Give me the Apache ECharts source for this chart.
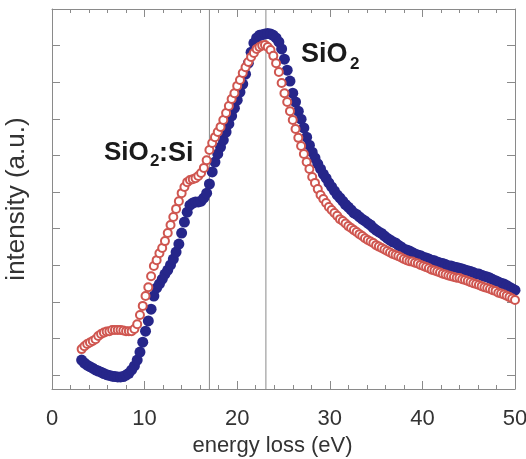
<!DOCTYPE html>
<html><head><meta charset="utf-8">
<script src="https://cdn.jsdelivr.net/npm/echarts@6/dist/echarts.min.js"></script>
<style>html,body{margin:0;padding:0;background:#fff}#c{width:526px;height:459px}</style>
</head><body><div id="c"></div>
<script>
// energy loss (eV)
const energy = [3.2,3.5,3.8,4.1,4.4,4.7,5.0,5.3,5.6,5.9,6.2,6.5,6.8,7.1,7.4,7.7,8.0,8.3,8.6,8.9,9.2,9.5,9.8,10.1,10.4,10.7,11.0,11.3,11.6,11.9,12.2,12.5,12.8,13.1,13.4,13.7,14.0,14.3,14.6,14.9,15.2,15.5,15.8,16.1,16.4,16.7,17.0,17.3,17.6,17.9,18.2,18.5,18.8,19.1,19.4,19.7,20.0,20.3,20.6,20.9,21.2,21.5,21.8,22.1,22.4,22.7,23.0,23.3,23.6,23.9,24.2,24.5,24.8,25.1,25.4,25.7,26.0,26.3,26.6,26.9,27.2,27.5,27.8,28.1,28.4,28.7,29.0,29.3,29.6,29.9,30.2,30.5,30.8,31.1,31.4,31.7,32.0,32.3,32.6,32.9,33.2,33.5,33.8,34.1,34.4,34.7,35.0,35.3,35.6,35.9,36.2,36.5,36.8,37.1,37.4,37.7,38.0,38.3,38.6,38.9,39.2,39.5,39.8,40.1,40.4,40.7,41.0,41.3,41.6,41.9,42.2,42.5,42.8,43.1,43.4,43.7,44.0,44.3,44.6,44.9,45.2,45.5,45.8,46.1,46.4,46.7,47.0,47.3,47.6,47.9,48.2,48.5,48.8,49.1,49.4,49.7,50.0];
// SiO2 (filled blue circles)
const sio2 = [4.1,3.3,2.7,2.3,1.9,1.4,1.1,0.8,0.4,0.1,
-0.1,-0.3,-0.4,-0.5,-0.5,-0.4,0.0,0.5,1.4,2.5,
4.1,6.3,9.0,12.0,14.8,18.0,21.6,23.8,24.9,26.2,
27.6,28.7,30.1,31.7,33.6,35.8,38.8,41.8,44.5,46.4,
47.0,47.3,47.3,47.5,48.4,49.7,52.2,55.5,58.2,60.4,
62.3,64.2,66.4,68.6,70.8,72.9,75.1,77.3,79.5,82.2,
85.2,88.2,90.7,92.1,92.8,93.0,93.2,93.3,93.2,92.8,
92.1,91.0,89.1,86.3,83.3,80.3,77.0,74.6,72.1,69.9,
67.5,65.0,62.8,60.9,59.3,57.7,56.3,54.9,53.8,52.5,
51.4,50.3,49.2,48.4,47.5,46.6,45.9,45.1,44.3,43.9,
43.2,42.6,42.1,41.5,41.0,40.2,39.6,39.1,38.7,38.0,
37.4,36.9,36.4,36.1,35.5,35.0,34.4,34.2,33.9,33.5,
33.1,32.8,32.6,32.2,32.0,31.7,31.4,31.2,30.9,30.6,
30.5,30.2,29.9,29.8,29.5,29.4,29.2,29.0,28.7,28.5,
28.3,28.0,27.7,27.6,27.3,27.0,26.8,26.5,26.1,25.8,
25.4,25.1,24.9,24.5,24.0,23.6,23.2];
// SiO2:Si (open red circles)
const sio2si = [7.1,7.9,8.5,8.9,9.3,9.8,10.7,11.2,11.6,11.9,
12.0,12.3,12.3,12.3,12.3,12.2,12.0,12.0,12.0,12.6,
13.9,16.4,18.9,21.6,24.0,27.0,29.8,31.4,33.3,34.7,
36.6,38.8,41.0,43.2,45.4,47.5,49.7,51.4,52.7,53.3,
53.5,53.8,54.4,55.2,56.6,58.7,61.5,63.4,65.0,66.4,
67.8,69.7,71.6,73.5,75.4,77.0,79.0,80.6,82.5,84.1,
85.5,86.9,88.0,89.1,89.6,90.0,90.2,89.6,88.8,87.2,
85.2,82.8,79.8,77.0,74.6,72.1,69.7,67.2,64.8,62.6,
60.4,58.2,56.3,54.1,52.5,50.8,49.2,48.1,47.0,45.9,
45.1,44.3,43.5,42.6,42.1,41.4,40.7,40.2,39.6,39.1,
38.5,38.0,37.4,36.9,36.5,36.1,35.5,35.1,34.7,34.3,
33.9,33.5,33.1,32.8,32.5,32.1,31.7,31.4,31.1,31.0,
30.7,30.5,30.1,29.8,29.5,29.2,28.8,28.6,28.3,28.0,
27.7,27.5,27.2,27.0,26.8,26.6,26.5,26.2,26.0,25.7,
25.4,25.1,24.9,24.6,24.3,24.0,23.8,23.5,23.2,23.0,
22.5,22.3,22.0,21.7,21.3,20.9,20.5];
const yTickValues = [0,10,20,30,40,50,60,70,80,90];
const guideLines = [17.0, 23.1];

const Y_MIN = -3.8, Y_MAX = 100;
const FONT = "'Liberation Sans', Arial, Helvetica, sans-serif";
const frame = {color:'#8a8a8a', width:1};
const chart = echarts.init(document.getElementById('c'), null, {renderer:'canvas'});
function xAx(pos, labels){
  return {type:'value', position:pos, min:0, max:50, interval:10,
    axisLine:{show:true, onZero:false, lineStyle:frame},
    axisTick:{show:true, inside:true, length:8, lineStyle:frame},
    minorTick:{show:true, splitNumber:5, length:4, lineStyle:frame},
    splitLine:{show:false}, minorSplitLine:{show:false},
    axisLabel:{show:labels, fontSize:22, color:'#333', margin:19, fontFamily:FONT},
    name: labels ? 'energy loss (eV)' : '', nameLocation:'middle', nameGap:45,
    nameTextStyle:{fontSize:22, color:'#333', fontFamily:FONT, padding:[0,22,0,0]}};
}
function yAx(pos, title){
  return {type:'value', position:pos, min:Y_MIN, max:Y_MAX,
    axisLine:{show:true, onZero:false, lineStyle:frame},
    axisTick:{show:true, inside:true, length:8, lineStyle:frame, customValues:yTickValues},
    axisLabel:{show:false, customValues:yTickValues},
    splitLine:{show:false},
    name: title ? 'intensity (a.u.)' : '', nameLocation:'middle', nameGap:22, nameRotate:90,
    nameTextStyle:{fontSize:26, color:'#333', fontFamily:FONT}};
}
const guideSeries = guideLines.map(v => ({
  type:'line', z:1, silent:true, symbol:'none', animation:false,
  lineStyle:{color:'#8a8a8a', width:1},
  data:[[v, Y_MIN],[v, Y_MAX]]
}));
chart.setOption({
  animation:false,
  backgroundColor:'#fff',
  grid:{left:52, right:11, top:9, bottom:70, outerBoundsMode:'none', containLabel:false},
  xAxis:[xAx('bottom', true), xAx('top', false)],
  yAxis:[yAx('left', true), yAx('right', false)],
  series:[
    ...guideSeries,
    {name:'SiO2', type:'scatter', z:2, symbol:'circle', symbolSize:11,
     itemStyle:{color:'#26268a', opacity:1},
     data: energy.map((x,i)=>[x, sio2[i]])},
    {name:'SiO2:Si', type:'scatter', z:3, symbol:'emptyCircle', symbolSize:8,
     itemStyle:{color:'#cf5650', borderWidth:1, opacity:1},
     data: energy.map((x,i)=>[x, sio2si[i]])}
  ],
  graphic:[
    {type:'text', x:104, y:140, style:{text:'SiO', font:"bold 26px "+FONT, fill:'#1a1a1a'}},
    {type:'text', x:150, y:153, style:{text:'2', font:"bold 17px "+FONT, fill:'#1a1a1a'}},
    {type:'text', x:159, y:140, style:{text:':Si', font:"bold 27px "+FONT, fill:'#1a1a1a'}},
    {type:'text', x:301, y:41, style:{text:'SiO', font:"bold 27px "+FONT, fill:'#1a1a1a'}},
    {type:'text', x:350, y:56, style:{text:'2', font:"bold 17px "+FONT, fill:'#1a1a1a'}}
  ]
});
</script></body></html>
